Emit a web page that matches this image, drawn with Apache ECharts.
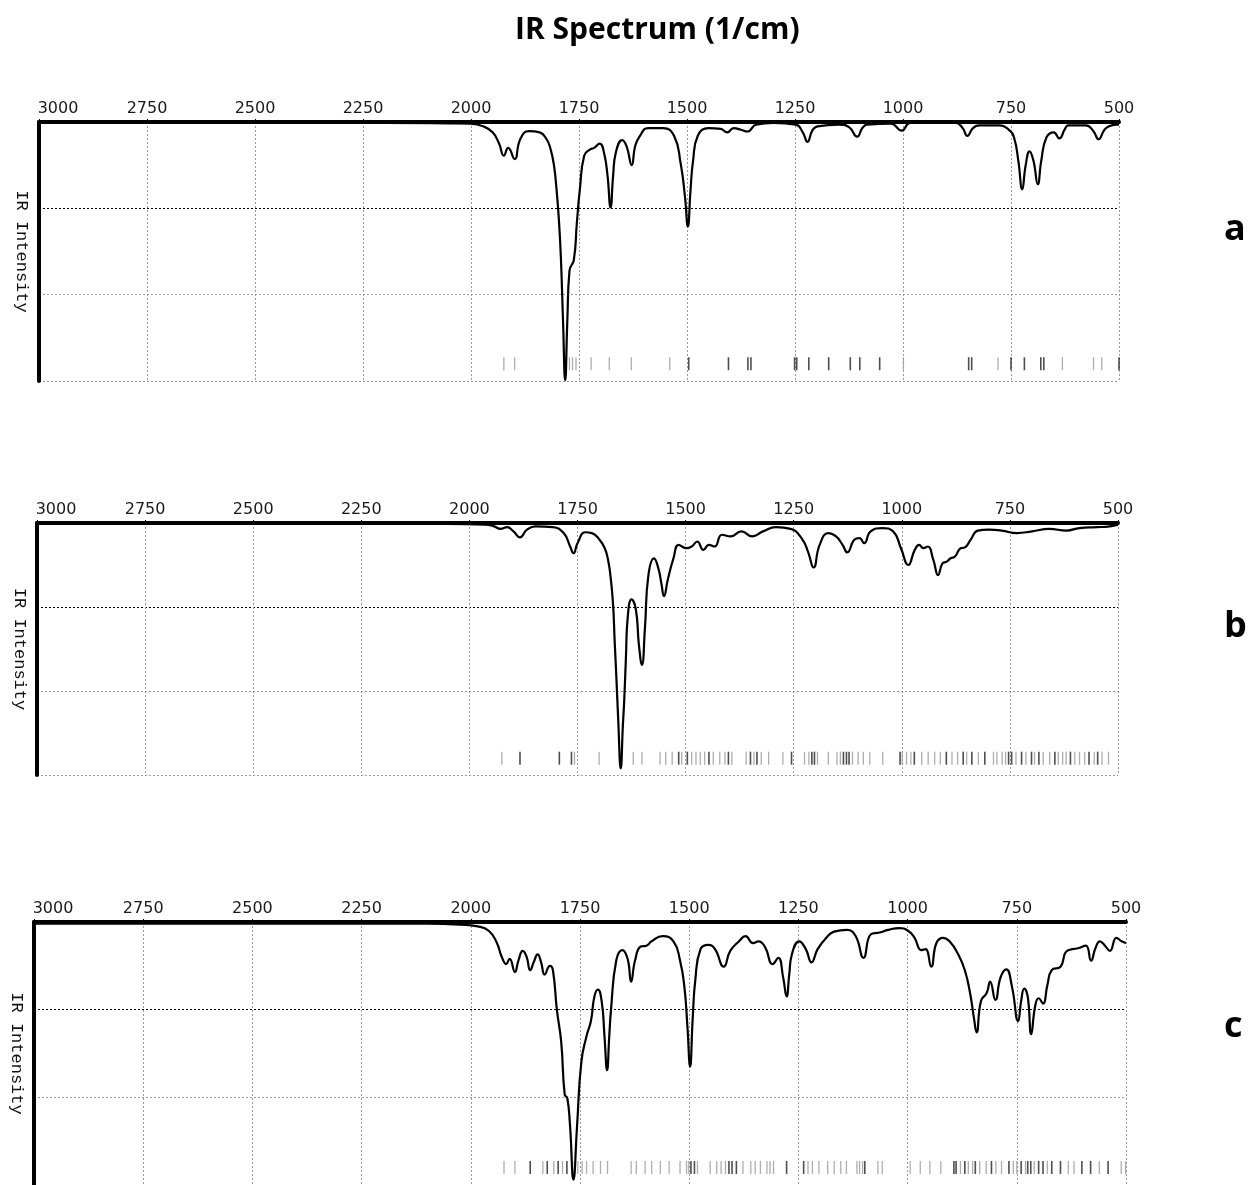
<!DOCTYPE html>
<html>
<head>
<meta charset="utf-8">
<script src="https://cdn.jsdelivr.net/npm/echarts@6/dist/echarts.min.js"></script>
<style>
html,body{margin:0;padding:0;background:#fff;}
#chart{width:1253px;height:1185px;}
</style>
</head>
<body>
<div id="chart"></div>
<script>
// ---------- DATA ----------
const xTicks = [3000, 2750, 2500, 2250, 2000, 1750, 1500, 1250, 1000, 750, 500];
const panelLabels = ['a', 'b', 'c'];

// Spectrum a
const waveA = [3000,2500,2200,2050,2000,1972,1950,1935,1924,1914,1899,1886,1866,1841,1825,1816,1808,1802,1797,1792,1787,1782,1777,1772,1762,1755,1748,1738,1725,1715,1702,1692,1684,1677,1671,1665,1650,1640,1628,1620,1610,1590,1555,1530,1515,1505,1498,1492,1486,1475,1450,1422,1407,1392,1375,1360,1340,1300,1248,1232,1221,1210,1198,1148,1125,1106,1094,1083,1028,1003,983,878,862,851,838,823,778,755,743,733,724,716,707,698,688,680,668,651,638,625,617,577,560,547,535,527,507,500];
const intA  = [0.01,0.01,0.01,0.015,0.02,0.05,0.12,0.25,0.39,0.30,0.43,0.20,0.105,0.12,0.20,0.31,0.50,0.78,1.10,1.56,2.30,2.99,2.30,1.72,1.60,1.17,0.78,0.39,0.32,0.30,0.25,0.36,0.62,0.99,0.62,0.36,0.21,0.28,0.50,0.28,0.17,0.07,0.07,0.16,0.47,0.85,1.21,0.80,0.45,0.16,0.07,0.08,0.12,0.07,0.09,0.11,0.03,0.01,0.03,0.12,0.23,0.10,0.05,0.03,0.06,0.17,0.07,0.03,0.02,0.10,0.01,0.01,0.07,0.16,0.07,0.04,0.04,0.09,0.18,0.45,0.78,0.50,0.34,0.45,0.72,0.45,0.18,0.12,0.19,0.08,0.04,0.04,0.10,0.20,0.10,0.06,0.03,0.03];
const peaksALight = [1924,1899,1780,1772,1765,1757,1722,1680,1629,1540,999,780,631,559,540];
const peaksADark  = [1496,1404,1359,1352,1251,1246,1218,1172,1122,1100,1054,848,841,750,719,681,674,500];

// Spectrum b
const waveB = [3000,2200,2050,1963,1943,1928,1913,1898,1883,1867,1847,1807,1782,1767,1759,1750,1732,1717,1702,1687,1679,1674,1668,1664,1660,1656,1650,1645,1642,1638,1634,1625,1615,1608,1601,1594,1586,1573,1563,1556,1550,1541,1528,1516,1499,1486,1473,1459,1446,1433,1416,1396,1371,1346,1321,1291,1257,1232,1217,1204,1190,1170,1152,1137,1126,1110,1098,1087,1072,1045,1020,1002,985,970,960,950,940,927,916,906,896,887,877,864,854,841,824,799,769,734,699,659,619,589,549,519,500];
const intB  = [0.01,0.01,0.01,0.02,0.04,0.07,0.05,0.10,0.17,0.08,0.04,0.05,0.12,0.28,0.36,0.24,0.11,0.12,0.18,0.30,0.45,0.62,0.95,1.41,1.85,2.32,2.92,2.40,2.12,1.60,1.13,0.91,1.03,1.45,1.69,1.25,0.62,0.42,0.54,0.72,0.87,0.67,0.42,0.26,0.30,0.28,0.22,0.32,0.26,0.28,0.14,0.16,0.10,0.16,0.10,0.05,0.07,0.18,0.34,0.53,0.26,0.12,0.16,0.26,0.35,0.20,0.18,0.24,0.10,0.06,0.10,0.30,0.50,0.32,0.26,0.30,0.28,0.44,0.62,0.48,0.46,0.42,0.40,0.30,0.29,0.20,0.09,0.08,0.09,0.12,0.10,0.07,0.09,0.06,0.05,0.04,0.02];
const peaksBLight = [1925,1757,1700,1621,1601,1559,1546,1531,1509,1486,1476,1466,1456,1436,1421,1409,1393,1360,1342,1325,1308,1275,1225,1215,1195,1170,1150,1142,1114,1101,1089,1074,1044,999,989,979,954,939,924,911,884,871,850,823,788,780,768,760,736,713,693,673,658,638,628,620,600,589,577,555,537,522,499];
const peaksBDark  = [1883,1792,1764,1516,1496,1446,1401,1350,1335,1255,1208,1202,1135,1128,1122,1004,971,897,858,838,808,753,746,723,700,683,646,610,567,547];

// Spectrum c
const waveC = [3000,2500,2100,2024,1984,1959,1941,1929,1919,1911,1899,1891,1881,1872,1864,1856,1847,1839,1831,1819,1812,1803,1793,1785,1779,1773,1765,1757,1747,1735,1725,1717,1709,1700,1694,1688,1683,1679,1667,1653,1641,1633,1624,1611,1598,1586,1561,1536,1521,1511,1504,1498,1492,1486,1474,1456,1441,1421,1406,1386,1371,1354,1341,1326,1309,1296,1285,1277,1271,1265,1248,1233,1220,1206,1188,1168,1139,1119,1101,1084,1064,1044,1019,999,984,969,959,946,934,919,904,884,869,857,848,842,832,819,811,799,787,774,761,747,740,733,725,717,708,700,690,680,670,650,635,610,592,580,570,560,548,537,522,510,500];
const intC  = [0.02,0.02,0.02,0.03,0.05,0.10,0.23,0.40,0.48,0.42,0.57,0.44,0.33,0.40,0.55,0.46,0.37,0.46,0.60,0.50,0.55,1.00,1.37,1.97,2.01,2.31,2.94,2.35,1.60,1.30,1.13,0.85,0.77,0.92,1.30,1.69,1.30,1.00,0.44,0.32,0.42,0.68,0.44,0.28,0.27,0.22,0.16,0.22,0.44,0.74,1.20,1.65,1.10,0.66,0.31,0.26,0.31,0.51,0.33,0.22,0.16,0.24,0.22,0.29,0.48,0.41,0.63,0.85,0.60,0.37,0.22,0.31,0.46,0.31,0.19,0.11,0.09,0.16,0.41,0.14,0.12,0.09,0.07,0.10,0.18,0.32,0.31,0.51,0.24,0.18,0.22,0.37,0.55,0.81,1.10,1.26,0.90,0.81,0.68,0.89,0.63,0.54,0.74,1.13,0.90,0.76,0.85,1.28,0.96,0.87,0.93,0.72,0.55,0.51,0.33,0.30,0.27,0.44,0.30,0.22,0.27,0.33,0.18,0.22,0.24];
const peaksCLight = [1924,1899,1835,1810,1790,1763,1755,1745,1735,1720,1703,1687,1633,1621,1601,1586,1566,1546,1521,1506,1501,1481,1452,1437,1427,1417,1377,1359,1349,1337,1322,1315,1307,1228,1218,1203,1183,1168,1153,1140,1116,1110,1103,1068,1058,994,971,949,924,879,861,851,835,820,798,785,758,750,730,710,680,632,619,561,511,501];
const peaksCDark  = [1864,1825,1800,1780,1496,1488,1409,1402,1392,1277,1238,1098,894,889,869,845,808,768,740,725,718,700,690,670,650,601,581,541];

const tickLevel = 2.8;

// ---------- CHART ----------
const chart = echarts.init(document.getElementById('chart'), null, {renderer: 'canvas'});

const gridDefs = [
  {left: 39, right: 134, top: 122, height: 259},
  {left: 37, right: 135, top: 523, height: 252},
  {left: 33, right: 127, top: 922, height: 264}
];
const labelTops = [212, 609, 1009];
const spectra = [[waveA, intA, peaksALight, peaksADark], [waveB, intB, peaksBLight, peaksBDark], [waveC, intC, peaksCLight, peaksCDark]];

const grids = [], xAxes = [], yAxes = [], series = [], graphics = [];
gridDefs.forEach((g, i) => {
  grids.push(Object.assign({containLabel: false}, g));
  xAxes.push({
    type: 'value', gridIndex: i, min: 500, max: 3000, interval: 250, inverse: true,
    position: 'top',
    axisLine: {show: true, onZero: false, lineStyle: {color: '#000', width: 4}},
    axisTick: {show: true, length: 3, lineStyle: {color: '#000', width: 1}},
    axisLabel: {
      show: true, margin: 5, fontFamily: 'DejaVu Sans', fontSize: 16, color: '#1a1a1a',
      showMinLabel: true, showMaxLabel: true,
      formatter: v => (v === xTicks[0] ? '{l|' + v + '}' : String(v)),
      rich: {l: {fontFamily: 'DejaVu Sans', fontSize: 16, color: '#1a1a1a', padding: [0, 0, 0, 38]}}
    },
    splitLine: {show: true, lineStyle: {color: '#9a9a9a', type: [2, 2], width: 1}}
  });
  yAxes.push({
    type: 'value', gridIndex: i, min: 0, max: 3, interval: 1, inverse: true,
    position: 'left',
    name: 'IR Intensity', nameLocation: 'middle', nameRotate: -90, nameGap: 9,
    nameTextStyle: {fontFamily: 'Liberation Mono', fontSize: 17, color: '#111'},
    axisLine: {show: true, onZero: false, lineStyle: {color: '#000', width: 4}},
    axisTick: {show: false},
    axisLabel: {show: false},
    splitLine: {show: true, lineStyle: {color: ['#9a9a9a', '#000', '#9a9a9a', '#9a9a9a'], type: [2, 2], width: 1}}
  });
  const [w, v, pl, pd] = spectra[i];
  series.push({
    type: 'line', xAxisIndex: i, yAxisIndex: i,
    data: w.map((x, k) => [x, v[k]]),
    showSymbol: false, smooth: 0.5,
    lineStyle: {color: '#000', width: 2.2}, z: 5, silent: true
  });
  series.push({
    type: 'scatter', xAxisIndex: i, yAxisIndex: i,
    data: pl.map(x => [x, tickLevel]),
    symbol: 'rect', symbolSize: [1.3, 13],
    itemStyle: {color: '#9a9a9a'}, z: 3, silent: true
  });
  series.push({
    type: 'scatter', xAxisIndex: i, yAxisIndex: i,
    data: pd.map(x => [x, tickLevel]),
    symbol: 'rect', symbolSize: [1.6, 13],
    itemStyle: {color: '#222'}, z: 3, silent: true
  });
  graphics.push({
    type: 'text', left: 1224, top: labelTops[i],
    style: {text: panelLabels[i], font: 'bold 36px "Open Sans", Lato, sans-serif', fill: '#000'}
  });
});

chart.setOption({
  animation: false,
  backgroundColor: '#fff',
  title: {
    text: 'IR Spectrum (1/cm)', left: 510, top: 10,
    textStyle: {fontFamily: 'Open Sans', fontWeight: 'bold', fontSize: 30, color: '#000'}
  },
  grid: grids, xAxis: xAxes, yAxis: yAxes, series: series, graphic: graphics
});
</script>
</body>
</html>
